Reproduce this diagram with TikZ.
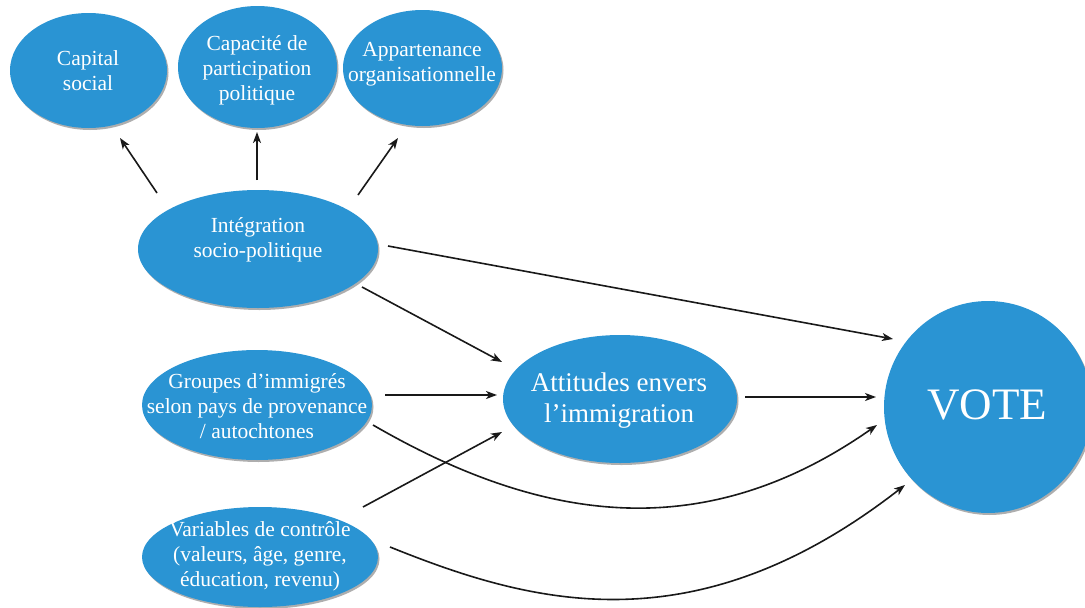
\documentclass[tikz,border=0pt]{standalone}
\usepackage{fontspec}
\setmainfont{Liberation Serif}
\usetikzlibrary{shapes.geometric,arrows.meta,shadows}

\definecolor{blobblue}{RGB}{42,148,211}

\tikzset{
  blob/.style={ellipse, fill=blobblue, draw=none, inner sep=0pt,
    drop shadow={shadow xshift=1.5pt, shadow yshift=-2pt, opacity=0.45, fill=black!70}},
  lbl/.style={text=white, align=center, inner sep=0pt,
    font=\fontsize{21.5}{25}\selectfont},
  arr/.style={line width=1.6pt, draw=black!90,
    -{Stealth[length=11pt, width=8pt, inset=3pt]}}
}

\begin{document}
\begin{tikzpicture}[x=1pt, y=-1pt]
\fill[white] (0,0) rectangle (1085,608);
\useasboundingbox (0,0) rectangle (1085,608);

% ellipses
\node[blob, minimum width=157pt, minimum height=115pt] (capital) at (88.5,70.5) {};
\node[blob, minimum width=159pt, minimum height=122pt] (capacite) at (257.5,67) {};
\node[blob, minimum width=159pt, minimum height=116pt] (appart) at (422.5,68) {};
\node[blob, minimum width=240pt, minimum height=118pt] (integ) at (258,249) {};
\node[blob, minimum width=230pt, minimum height=110pt] (groupes) at (257,405) {};
\node[blob, minimum width=236pt, minimum height=100pt] (variables) at (260,557) {};
\node[blob, minimum width=234pt, minimum height=128pt] (attitudes) at (620,399) {};
\node[blob, minimum width=208pt, minimum height=212pt] (vote) at (988,407) {};

% labels
\node[lbl] (capital-t) at (88,71) {Capital\\social};
\node[lbl] (capacite-t) at (257,70) {Capacité de\\participation\\politique};
\node[lbl] (appart-t) at (422,64) {Appartenance\\organisationnelle};
\node[lbl] (integ-t) at (258,240) {Intégration\\socio-politique};
\node[lbl] (groupes-t) at (257,406) {Groupes d’immigrés\\selon pays de provenance\\/ autochtones};
\node[lbl] (variables-t) at (260,556) {Variables de contrôle\\(valeurs, âge, genre,\\éducation, revenu)};
\node[lbl, font=\fontsize{27}{31}\selectfont] (attitudes-t) at (619,401) {Attitudes envers\\l’immigration};
\node[lbl, font=\fontsize{45}{50}\selectfont] (vote-t) at (987,405) {VOTE};

% connectors
\draw[arr] ([shift={(-101,-56)}]integ.center) -- ([shift={(31.5,67.5)}]capital.center);
\draw[arr] ([shift={(-1,-69)}]integ.center) -- ([shift={(-0.5,65)}]capacite.center);
\draw[arr] ([shift={(100,-54)}]integ.center) -- ([shift={(-24.5,70)}]appart.center);
\draw[arr] ([shift={(130,-3)}]integ.center) -- ([shift={(-95,-68)}]vote.center);
\draw[arr] ([shift={(104,38)}]integ.center) -- ([shift={(-118,-37)}]attitudes.center);
\draw[arr] ([shift={(128,-10)}]groupes.center) -- ([shift={(-123,-4)}]attitudes.center);
\draw[arr] ([shift={(103,-50)}]variables.center) -- ([shift={(-118,33)}]attitudes.center);
\draw[arr] ([shift={(125,-2)}]attitudes.center) -- ([shift={(-112,-10)}]vote.center);
\draw[arr] ([shift={(116,20)}]groupes.center)
  .. controls +(164,95) and +(-177,124) .. ([shift={(-111,18)}]vote.center);
\draw[arr] ([shift={(130,-10)}]variables.center)
  .. controls +(139,56) and +(-212,165) .. ([shift={(-83,78)}]vote.center);
\end{tikzpicture}
\end{document}
